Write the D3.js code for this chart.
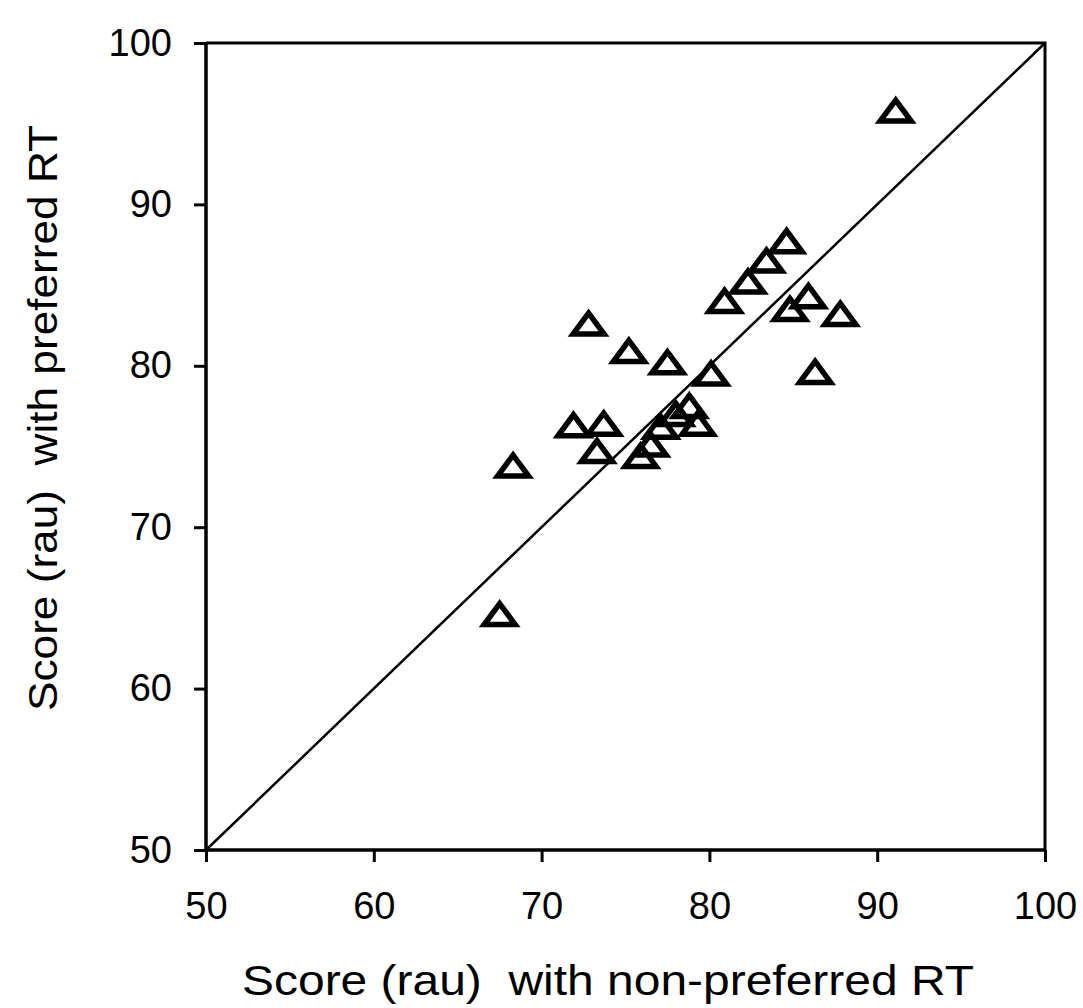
<!DOCTYPE html>
<html><head><meta charset="utf-8">
<script src="https://cdn.jsdelivr.net/npm/d3@7"></script>
<style>body{margin:0;background:#fff} svg{display:block}</style>
</head><body>
<svg id="chart" width="1083" height="1008"></svg>
<script>
// Score (rau) with non-preferred RT (x) and with preferred RT (y)
const nonPreferred = [91.1, 68.3, 67.5, 72.8, 75.2, 77.5, 80.1, 71.9, 73.7, 73.3, 75.9, 76.5, 77.1, 78.0, 78.8, 79.3, 80.9, 82.3, 83.4, 84.6, 85.9, 84.8, 87.8, 86.3];
const preferred    = [95.6, 73.6, 64.4, 82.4, 80.7, 80.0, 79.3, 76.1, 76.2, 74.5, 74.2, 74.9, 76.0, 76.8, 77.3, 76.2, 83.8, 85.0, 86.3, 87.5, 84.1, 83.3, 83.0, 79.4];
const xTicks = [50, 60, 70, 80, 90, 100];
const yTicks = [50, 60, 70, 80, 90, 100];
const xDomain = [50, 100];
const yDomain = [50, 100];
const identityLine = [50, 100];
const xTitle = "Score (rau)  with non-preferred RT";
const yTitle = "Score (rau)  with preferred RT";

const W = 1083, H = 1008;
const m = {left: 206, right: 38, top: 43, bottom: 158};
const svg = d3.select("#chart");
const font = "'Liberation Sans', Arial, sans-serif";

const x = d3.scaleLinear().domain(xDomain).range([m.left, W - m.right]);
const y = d3.scaleLinear().domain(yDomain).range([H - m.bottom, m.top]);

const g = svg.append("g");

// frame (top & right)
g.append("path")
  .attr("d", `M${x(xDomain[0])},${y(yDomain[1])}H${x(xDomain[1])}V${y(yDomain[0])}`)
  .attr("fill", "none").attr("stroke", "#000").attr("stroke-width", 3);

// identity line
g.append("line")
  .attr("x1", x(identityLine[0])).attr("y1", y(identityLine[0]))
  .attr("x2", x(identityLine[1])).attr("y2", y(identityLine[1]))
  .attr("stroke", "#000").attr("stroke-width", 2.5);

// axes
const xAxis = d3.axisBottom(x).tickValues(xTicks).tickFormat(d3.format("d")).tickSize(12).tickPadding(30);
const yAxis = d3.axisLeft(y).tickValues(yTicks).tickFormat(d3.format("d")).tickSize(12).tickPadding(22);

const gx = g.append("g").attr("transform", `translate(0,${y(yDomain[0])})`).call(xAxis);
const gy = g.append("g").attr("transform", `translate(${x(xDomain[0])},0)`).call(yAxis);
[gx, gy].forEach(a => {
  a.select(".domain").attr("stroke", "#000").attr("stroke-width", 3.5)
    .attr("d", a === gx ? `M${x(xDomain[0])},0H${x(xDomain[1])}` : `M0,${y(yDomain[0])}V${y(yDomain[1])}`);
  a.selectAll(".tick line").attr("stroke", "#000").attr("stroke-width", 3);
  a.selectAll(".tick text").attr("fill", "#000").style("font-family", font).style("font-size", "38px");
});

// triangle markers
const tri = {
  draw(ctx, size) {
    const a = 15.5, h = 21;
    ctx.moveTo(0, -2 * h / 3);
    ctx.lineTo(a, h / 3);
    ctx.lineTo(-a, h / 3);
    ctx.closePath();
  }
};
const pts = nonPreferred.map((v, i) => ({x: v, y: preferred[i]}));
g.append("g").selectAll("path").data(pts).join("path")
  .attr("transform", d => `translate(${x(d.x)},${y(d.y)})`)
  .attr("d", d3.symbol().type(tri))
  .attr("fill", "none").attr("stroke", "#000").attr("stroke-width", 5.5)
  .attr("stroke-linejoin", "miter");

// titles
svg.append("text")
  .attr("x", 608).attr("y", 995)
  .attr("text-anchor", "middle")
  .style("font-family", font).style("font-size", "42px").style("white-space", "pre")
  .attr("textLength", 732).attr("lengthAdjust", "spacingAndGlyphs")
  .text(xTitle);

svg.append("text")
  .attr("transform", `translate(57,418) rotate(-90)`)
  .attr("text-anchor", "middle")
  .style("font-family", font).style("font-size", "40px").style("white-space", "pre")
  .attr("textLength", 586).attr("lengthAdjust", "spacingAndGlyphs")
  .text(yTitle);
</script>
</body></html>
